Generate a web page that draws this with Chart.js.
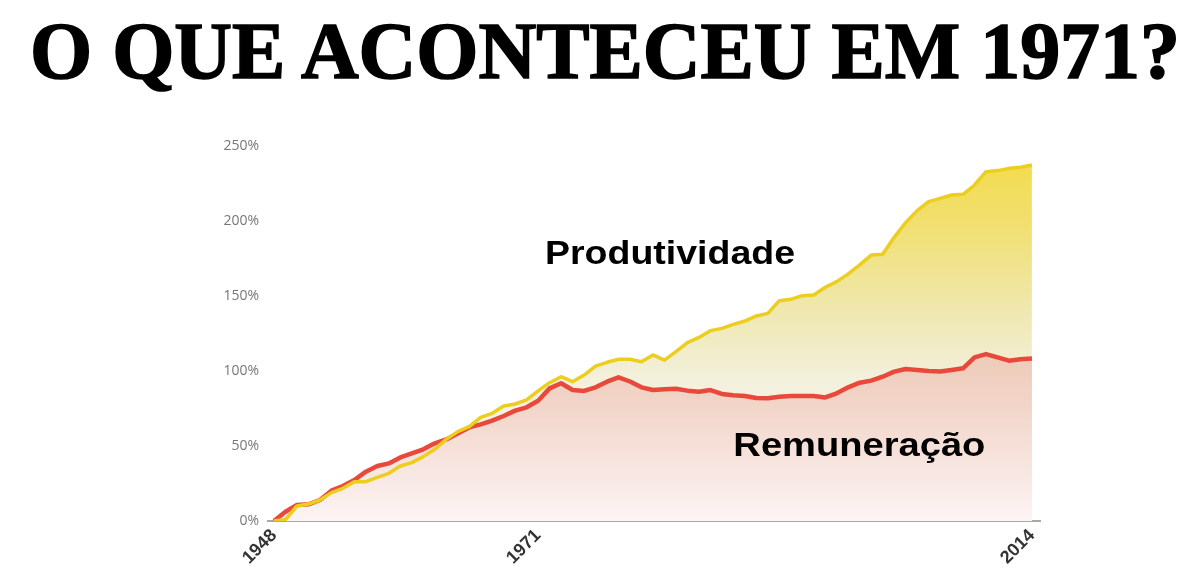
<!DOCTYPE html>
<html>
<head>
<meta charset="utf-8">
<script src="https://cdn.jsdelivr.net/npm/chart.js@4.4.1/dist/chart.umd.min.js"></script>
<style>
  html, body { margin: 0; padding: 0; background: #ffffff; }
  body { width: 1189px; height: 575px; position: relative; overflow: hidden; }
  #title {
    position: absolute; left: 30px; top: 11px; margin: 0;
    font-family: "Liberation Serif", "DejaVu Serif", serif; font-weight: bold;
    font-size: 80px; line-height: 80px; color: #000; white-space: nowrap;
    -webkit-text-stroke: 1.6px #000;
    transform-origin: 0 0;
  }
  #chart { position: absolute; left: 0; top: 0; }
</style>
</head>
<body>
<div id="title">O QUE ACONTECEU EM 1971?</div>
<canvas id="chart" width="1189" height="575"></canvas>
<script>
// ---- data ----
const years = [];
for (let y = 1948; y <= 2014; y++) years.push(y);

const productivity = [
  0, 1, 10, 11.3, 14, 18.9, 21.8, 26.2, 26.2, 29.1,
  31.8, 36.7, 38.9, 42.9, 47.8, 54.4, 59.6, 62.9, 69.1, 71.8,
  76.7, 78, 80.7, 86.7, 92.2, 96.2, 92.9, 97.3, 103.3, 105.8,
  107.8, 107.8, 106.2, 110.7, 107.3, 112.9, 118.9, 122.4, 126.9, 128.4,
  131.1, 133.3, 136.7, 138.4, 146.9, 147.8, 150.2, 150.7, 155.8, 159.6,
  164.7, 170.7, 177.3, 177.8, 189.1, 198.9, 206.9, 212.9, 215.1, 217.3,
  217.8, 224, 232.9, 233.6, 235.1, 235.8, 237.3
];

const compensation = [
  0, 6.2, 10.7, 11.1, 14, 20.2, 23.3, 27.3, 32.9, 36.7,
  38.4, 42.4, 45.1, 47.8, 51.8, 54.4, 58.4, 62.4, 64.4, 66.9,
  70, 73.6, 75.8, 80.2, 88.4, 91.8, 87.3, 86.7, 89.1, 92.9,
  95.8, 93, 89.1, 87.3, 87.8, 88.2, 86.9, 86.2, 87.3, 84.7,
  83.8, 83.3, 82, 81.8, 82.9, 83.3, 83.3, 83.3, 82.4, 85.1,
  89.1, 92.2, 93.6, 96.2, 99.6, 101.3, 100.7, 100, 99.6, 100.7,
  101.8, 109.1, 111.3, 109.1, 106.9, 107.8, 108.4
];

const xTickYears = [1948, 1971, 2014];
const yTickValues = [0, 50, 100, 150, 200, 250];
const seriesNames = ['Produtividade', 'Remuneração'];

// ---- title width fit ----
(function () {
  const t = document.getElementById('title');
  const w = t.getBoundingClientRect().width;
  t.style.transform = 'scaleX(' + (1150 / w) + ')';
})();

function gradYellow(ctx) {
  const area = ctx.chart.chartArea;
  if (!area) return 'rgba(242,222,80,0.5)';
  const g = ctx.chart.ctx.createLinearGradient(0, area.top, 0, area.bottom);
  g.addColorStop(0, '#f3db45');
  g.addColorStop(0.2, '#f1df6e');
  g.addColorStop(0.45, '#efe8b2');
  g.addColorStop(0.62, '#f3f0dc');
  g.addColorStop(1, '#f8f7f0');
  return g;
}
function gradRed(ctx) {
  const area = ctx.chart.chartArea;
  if (!area) return 'rgba(238,200,185,0.6)';
  const g = ctx.chart.ctx.createLinearGradient(0, area.top, 0, area.bottom);
  g.addColorStop(0, '#eab8a2');
  g.addColorStop(0.55, '#eecab8');
  g.addColorStop(0.7, '#f2d6ca');
  g.addColorStop(1, '#fcf4f4');
  return g;
}

// labels placed in data coordinates
const seriesLabels = {
  id: 'seriesLabels',
  afterDatasetsDraw(chart) {
    const c = chart.ctx, xs = chart.scales.x, ys = chart.scales.y;
    const items = [
      { text: seriesNames[0], x: 1971.6, y: 171.3, w: 250 },
      { text: seriesNames[1], x: 1988.0, y: 43.3, w: 252 }
    ];
    c.save();
    c.font = 'bold 34px "Liberation Sans", Arial, sans-serif';
    c.fillStyle = '#000';
    c.textBaseline = 'alphabetic';
    c.textAlign = 'left';
    items.forEach(it => {
      const nat = c.measureText(it.text).width;
      const px = xs.getPixelForValue(it.x), py = ys.getPixelForValue(it.y);
      c.save();
      c.translate(px, py);
      c.scale(it.w / nat, 1);
      c.fillText(it.text, 0, 0);
      c.restore();
    });
    c.restore();
  }
};

new Chart(document.getElementById('chart'), {
  type: 'line',
  data: {
    datasets: [
      {
        label: seriesNames[0],
        data: years.map((y, i) => ({ x: y, y: productivity[i] })),
        borderColor: '#ecce1e',
        borderWidth: 3.5,
        pointRadius: 0,
        tension: 0,
        borderJoinStyle: 'round',
        fill: { target: 1, above: gradYellow, below: 'rgba(0,0,0,0)' }
      },
      {
        label: seriesNames[1],
        data: years.map((y, i) => ({ x: y, y: compensation[i] })),
        borderColor: '#e8493b',
        backgroundColor: gradRed,
        borderWidth: 4.5,
        pointRadius: 0,
        tension: 0,
        borderJoinStyle: 'round',
        fill: 'origin'
      }
    ]
  },
  options: {
    responsive: false,
    animation: false,
    devicePixelRatio: 1,
    layout: { padding: { top: 146, right: 149, bottom: 0, left: 0 } },
    plugins: {
      legend: { display: false },
      tooltip: { enabled: false },
      title: { display: false },
      filler: { drawTime: 'beforeDatasetsDraw' }
    },
    scales: {
      x: {
        type: 'linear',
        min: 1947.48,
        max: 2014.7,
        afterBuildTicks(scale) { scale.ticks = xTickYears.map(v => ({ value: v })); },
        afterFit(scale) { scale.height = 54; },
        grid: { display: false, drawTicks: false },
        border: { display: true, color: '#a8a8a8', width: 2 },
        ticks: {
          autoSkip: false,
          minRotation: 45,
          maxRotation: 45,
          padding: 4,
          color: '#333',
          font: { family: '"Liberation Sans", Arial, sans-serif', size: 18, weight: 'bold' },
          callback: v => String(v)
        }
      },
      y: {
        min: 0,
        max: 250,
        afterBuildTicks(scale) { scale.ticks = yTickValues.map(v => ({ value: v })); },
        afterFit(scale) { scale.width = 268; },
        grid: { display: false, drawTicks: false },
        border: { display: false },
        ticks: {
          padding: 9,
          color: '#777',
          font: { family: '"Open Sans", sans-serif', size: 14 },
          callback: v => v + '%'
        }
      }
    }
  },
  plugins: [seriesLabels]
});
</script>
</body>
</html>
